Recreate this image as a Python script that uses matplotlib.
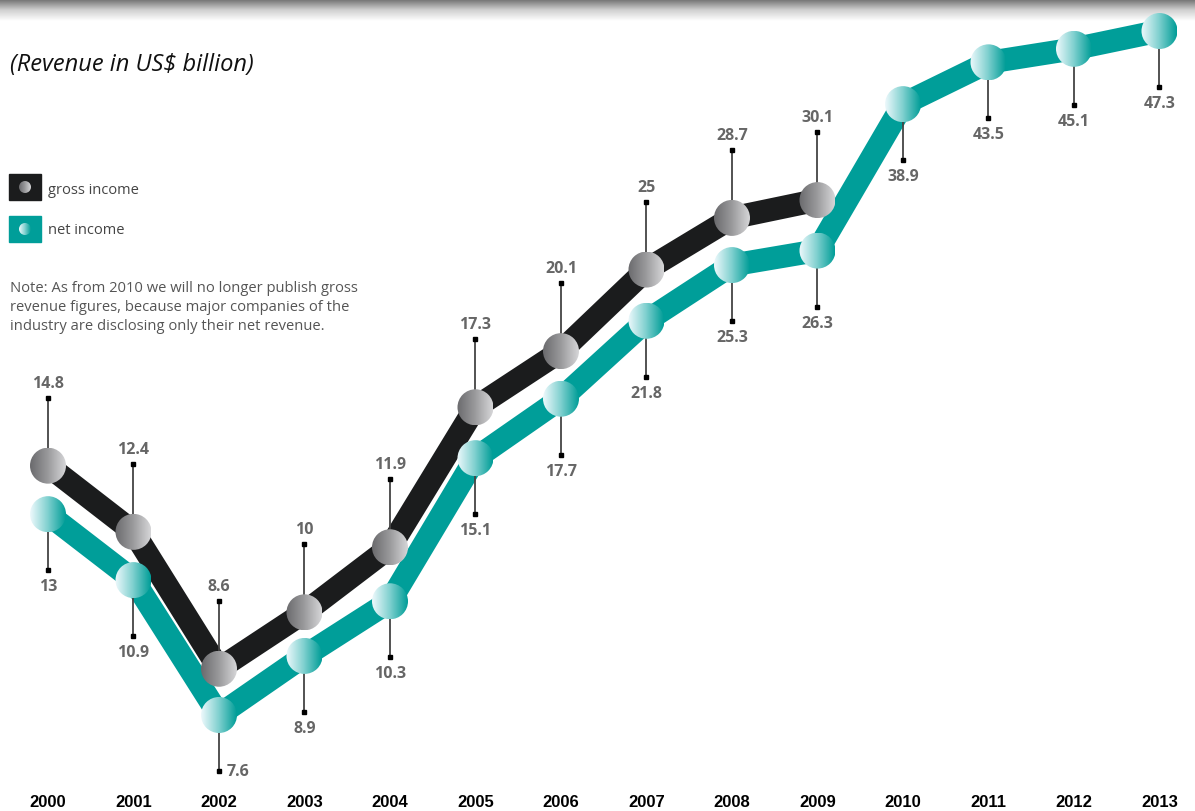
import matplotlib.pyplot as plt
import matplotlib.colors as mcolors
from matplotlib.patches import Circle, Rectangle
import numpy as np

# data
years_gross = list(range(2000, 2010))
gross_income = [14.8, 12.4, 8.6, 10, 11.9, 17.3, 20.1, 25, 28.7, 30.1]
years_net = list(range(2000, 2014))
net_income = [13, 10.9, 7.6, 8.9, 10.3, 15.1, 17.7, 21.8, 25.3, 26.3, 38.9, 43.5, 45.1, 47.3]
year_labels = [str(y) for y in range(2000, 2014)]

W, H = 1195, 812
GROSS_LINE = '#1b1c1d'
NET_LINE = '#009e99'
gray_cmap = mcolors.LinearSegmentedColormap.from_list('gray_ball', ['#6a6a6d', '#9a9a9c', '#d6d6d8'])
teal_cmap = mcolors.LinearSegmentedColormap.from_list('teal_ball', ['#eef9fc', '#7fd0cf', '#009d97'])
FONT = ['Open Sans', 'DejaVu Sans']

plt.rcParams['font.family'] = FONT

fig = plt.figure(figsize=(W / 100, H / 100), dpi=100)
ax = fig.add_axes([0, 0, 1, 1])
ax.set_yscale('log')
px_per_year = 85.5
x0 = 2000 - 48 / px_per_year
ax.set_xlim(x0, x0 + W / px_per_year)
k = (np.log10(47.3) - np.log10(7.6)) / (716 - 32)
ax.set_ylim(10 ** (np.log10(7.6) - (H - 716) * k), 10 ** (np.log10(7.6) + 716 * k))
ax.axis('off')

ax.plot(years_net, net_income, color=NET_LINE, lw=16.5, solid_capstyle='butt', zorder=2)
ax.plot(years_gross, gross_income, color=GROSS_LINE, lw=16.5, solid_capstyle='butt', zorder=3)

# overlay in pixel coordinates for spheres, leaders and text
deco = fig.add_axes([0, 0, 1, 1], zorder=5)
deco.set_xlim(0, W)
deco.set_ylim(0, H)
deco.axis('off')

grad = np.linspace(0, 1, 128).reshape(1, -1)


def sphere(a, cx, cy, r, cmap, z=5):
    circ = Circle((cx, cy), r, transform=a.transData)
    im = a.imshow(grad, extent=[cx - r, cx + r, cy - r, cy + r], cmap=cmap,
                  aspect='auto', origin='lower', interpolation='bilinear', zorder=z)
    im.set_clip_path(circ)


label_style = dict(fontsize=11.5, fontweight='bold', color='#666666', ha='center')

for yr, v in zip(years_gross, gross_income):
    px, py = ax.transData.transform((yr, v))
    top = py + 68
    deco.plot([px, px], [py, top], color='#444444', lw=1.3, zorder=3)
    deco.plot(px, top, 's', color='black', ms=3, zorder=3)
    deco.text(px, top + 7, f'{v:g}', va='bottom', **label_style)
    sphere(deco, px, py, 18, gray_cmap, z=6)

for yr, v in zip(years_net, net_income):
    px, py = ax.transData.transform((yr, v))
    bot = py - 56
    deco.plot([px, px], [py, bot], color='#444444', lw=1.3, zorder=3)
    deco.plot(px, bot, 's', color='black', ms=3, zorder=3)
    if v == min(net_income):
        deco.text(px + 8, bot, f'{v:g}', va='center', **{**label_style, 'ha': 'left'})
    else:
        deco.text(px, bot - 8, f'{v:g}', va='top', **label_style)
    sphere(deco, px, py, 18, teal_cmap, z=5)

# year labels
for yr, lab in zip(years_net, year_labels):
    px, _ = ax.transData.transform((yr, 10))
    deco.text(px, H - 803, lab, ha='center', va='center', fontsize=12, fontweight='bold',
              color='black', family=['Liberation Sans Narrow', 'Liberation Sans', 'DejaVu Sans'])

# top shading band
band = np.linspace(0, 1, 64).reshape(-1, 1)
band_cmap = mcolors.LinearSegmentedColormap.from_list('band', ['#ffffff', '#d0d0d0', '#6f6f6f'])
deco.imshow(band, extent=[0, W, H - 22, H], cmap=band_cmap, aspect='auto', origin='lower', zorder=1)

# title
deco.text(10, H - 65, r'(Revenue in US\$ billion)', fontsize=17, style='italic',
          color='#111111', va='center', ha='left')

# legend
deco.add_patch(Rectangle((9, H - 201), 32, 26, color=GROSS_LINE, zorder=2))
sphere(deco, 25, H - 188, 6, gray_cmap, z=3)
deco.text(48, H - 190, 'gross income', fontsize=10.5, color='#444444', va='center', ha='left')
deco.add_patch(Rectangle((9, H - 243), 32, 26, color=NET_LINE, zorder=2))
sphere(deco, 25, H - 230, 6, teal_cmap, z=3)
deco.text(48, H - 231, 'net income', fontsize=10.5, color='#444444', va='center', ha='left')

# note
deco.text(10, H - 281, 'Note: As from 2010 we will no longer publish gross\n'
          'revenue figures, because major companies of the\n'
          'industry are disclosing only their net revenue.',
          fontsize=10.6, color='#555555', va='top', ha='left', linespacing=1.35)

deco.set_xlim(0, W)
deco.set_ylim(0, H)

fig.savefig('out.png', dpi=100)
